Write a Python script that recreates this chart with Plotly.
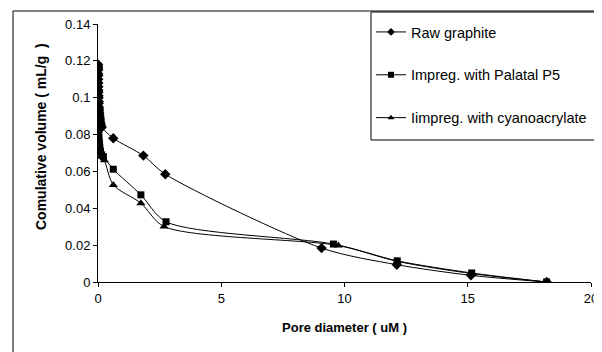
import plotly.graph_objects as go

# ---- data ----
raw_x = [0.004, 0.005, 0.006, 0.007, 0.008, 0.009, 0.010, 0.012, 0.014, 0.016, 0.018,
         0.020, 0.023, 0.026, 0.030, 0.034, 0.038, 0.043, 0.048, 0.055, 0.062, 0.070,
         0.080, 0.090, 0.100, 0.120, 0.150, 0.62, 1.84, 2.73, 9.07, 12.12, 15.13, 18.2]
raw_y = [0.118, 0.117, 0.116, 0.115, 0.113, 0.112, 0.110, 0.108, 0.106, 0.104, 0.103,
         0.101, 0.100, 0.098, 0.097, 0.095, 0.094, 0.093, 0.092, 0.091, 0.090, 0.089,
         0.088, 0.087, 0.086, 0.085, 0.084, 0.078, 0.0686, 0.0585, 0.0184, 0.0094, 0.0036, 0.0]

p5_x = [0.004, 0.006, 0.008, 0.010, 0.013, 0.016, 0.020, 0.025, 0.030, 0.040, 0.050,
        0.070, 0.100, 0.150, 0.220, 0.62, 1.74, 2.76, 9.55, 12.14, 15.16, 18.2]
p5_y = [0.088, 0.086, 0.085, 0.084, 0.083, 0.081, 0.080, 0.079, 0.078, 0.076, 0.075,
        0.073, 0.071, 0.069, 0.068, 0.0612, 0.0473, 0.0327, 0.0206, 0.0115, 0.0049, 0.0]

cy_x = [0.004, 0.006, 0.008, 0.010, 0.013, 0.016, 0.020, 0.025, 0.030, 0.040, 0.050,
        0.070, 0.100, 0.150, 0.260, 0.62, 1.74, 2.68, 9.75, 12.14, 15.2, 18.2]
cy_y = [0.085, 0.083, 0.082, 0.081, 0.080, 0.079, 0.078, 0.077, 0.076, 0.075, 0.074,
        0.072, 0.070, 0.068, 0.066, 0.0527, 0.0428, 0.0301, 0.0198, 0.0112, 0.0045, 0.0]

names = ["Raw graphite", "Impreg. with Palatal P5", "Iimpreg. with cyanoacrylate"]
x_ticks = [0, 5, 10, 15, 20]
y_ticks = [0, 0.02, 0.04, 0.06, 0.08, 0.1, 0.12, 0.14]
y_tick_text = ["0", "0.02", "0.04", "0.06", "0.08", "0.1", "0.12", "0.14"]

FONT = "Arial, Liberation Sans, sans-serif"

fig = go.Figure()
series = [(raw_x, raw_y, "diamond", 8), (p5_x, p5_y, "square", 7), (cy_x, cy_y, "triangle-up", 8)]
for i, ((xs, ys, sym, sz), nm) in enumerate(zip(series, names)):
    fig.add_trace(go.Scatter(
        x=xs, y=ys, name=nm, mode="lines+markers", legendgroup=f"g{i}", showlegend=False,
        line=dict(color="black", width=1, shape="spline", smoothing=0.8),
        marker=dict(symbol=sym, size=sz, color="black"),
    ))
# legend keys with the smaller markers used in the reference legend
for i, ((xs, ys, sym, sz), nm) in enumerate(zip(series, names)):
    fig.add_trace(go.Scatter(
        x=[None], y=[None], name=nm, mode="lines+markers", legendgroup=f"g{i}", showlegend=True,
        line=dict(color="black", width=1),
        marker=dict(symbol=sym, size=6, color="black"),
    ))

# page body has an 8px margin: figure origin sits at screen (8, 8)
OFF = 8
W, H = 602 - OFF, 352 - OFF
# plot area in screen pixels: x 98..591, y 24..282
SL, SR, ST, SB = 98, 591, 24, 282
L, R, T, B = SL - OFF, W - (SR - OFF), ST - OFF, H - (SB - OFF)
pw, ph = W - L - R, H - T - B

def px(xs):
    return (xs - SL) / pw

def py(ys):
    return (SB - ys) / ph

shapes = [
    # outer frame (open at bottom)
    dict(type="line", xref="paper", yref="paper", x0=px(13), x1=px(13), y0=py(11), y1=py(370),
         line=dict(color="black", width=1)),
    dict(type="line", xref="paper", yref="paper", x0=px(13), x1=px(600), y0=py(11), y1=py(11),
         line=dict(color="black", width=1)),
    dict(type="line", xref="paper", yref="paper", x0=px(600), x1=px(600), y0=py(11), y1=py(370),
         line=dict(color="#999999", width=1)),
    # legend box
    dict(type="rect", xref="paper", yref="paper", x0=px(371), x1=px(597), y0=py(12), y1=py(140),
         line=dict(color="black", width=1), fillcolor="rgba(0,0,0,0)"),
]

annotations = [
    dict(text="<b>Comulative volume ( mL/g &nbsp;)</b>", xref="paper", yref="paper",
         x=px(41), y=py(137), xanchor="center", yanchor="middle", textangle=-90,
         showarrow=False, font=dict(family=FONT, size=14, color="black")),
]

fig.update_layout(
    width=W, height=H,
    margin=dict(l=L, r=R, t=T, b=B, autoexpand=False),
    paper_bgcolor="white", plot_bgcolor="white",
    font=dict(family=FONT, size=13, color="black"),
    showlegend=True,
    legend=dict(x=px(371), y=py(16), xanchor="left", yanchor="top",
                bgcolor="rgba(0,0,0,0)", borderwidth=0, tracegroupgap=21,
                font=dict(family=FONT, size=14.5, color="black")),
    shapes=shapes,
    annotations=annotations,
    xaxis=dict(range=[0, 20], tickvals=x_ticks, showgrid=False, zeroline=False,
               showline=True, linecolor="black", linewidth=1,
               ticks="outside", ticklen=4, tickcolor="black", automargin=False,
               tickfont=dict(size=13),
               title=dict(text="<b>Pore diameter ( uM )</b>", font=dict(size=13), standoff=18)),
    yaxis=dict(range=[0, 0.14], tickvals=y_ticks, ticktext=y_tick_text, showgrid=False,
               zeroline=False, showline=True, linecolor="black", linewidth=1,
               ticks="outside", ticklen=4, tickcolor="black", automargin=False,
               tickfont=dict(size=13)),
)

fig.write_html("out.html")
